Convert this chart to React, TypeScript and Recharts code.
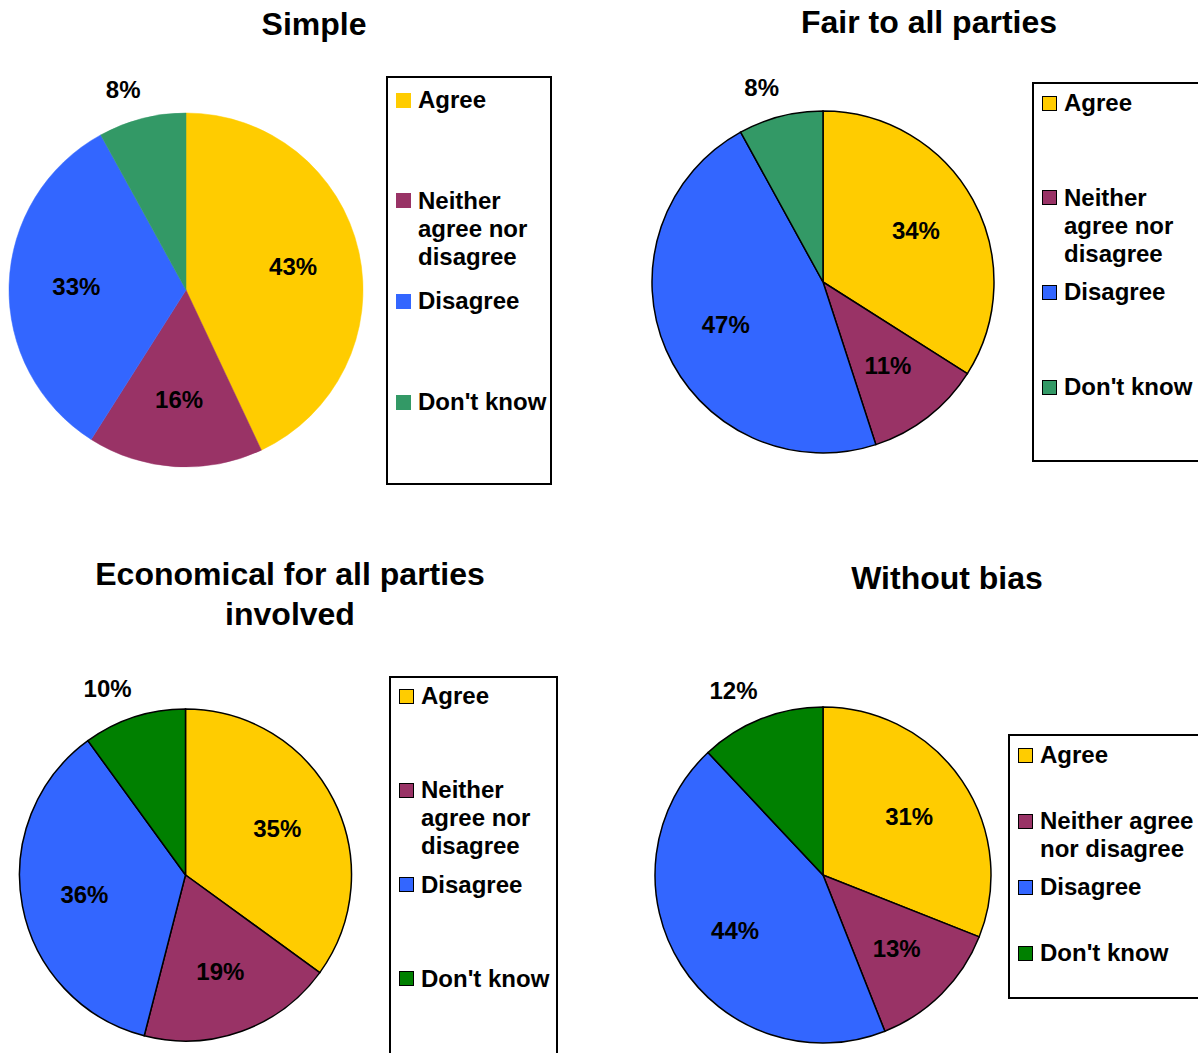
import React from "react";
import { PieChart, Pie, Cell, Legend } from "recharts";

// ---------- data ----------
const categories = ["Agree", "Neither agree nor disagree", "Disagree", "Don't know"];
const simpleValues = [43, 16, 33, 8];
const fairValues = [34, 11, 47, 8];
const economicalValues = [35, 19, 36, 10];
const biasValues = [31, 13, 44, 12];
const titles = ["Simple", "Fair to all parties", "Economical for all parties involved", "Without bias"];
const outsideLabelCategory = "Don't know";

const paletteA = ["#FFCC00", "#993366", "#3366FF", "#339966"];
const paletteB = ["#FFCC00", "#993366", "#3366FF", "#008000"];

const FONT = '"Liberation Sans", Arial, Helvetica, sans-serif';
const RAD = Math.PI / 180;

type Panel = {
  title: string;
  values: number[];
  colors: string[];
  outlined: boolean;
  left: number;
  top: number;
  cx: number;
  cy: number;
  r: number;
  titleLeft: number;
  titleTop: number;
  titleWidth: number;
  legend: { left: number; top: number; width: number; height: number; slot: number; padTop: number; textWidth: number };
};

const panels: Panel[] = [
  {
    title: titles[0], values: simpleValues, colors: paletteA, outlined: false,
    left: 0, top: 0, cx: 186, cy: 290, r: 177,
    titleLeft: 114, titleTop: 4, titleWidth: 400,
    legend: { left: 386, top: 76, width: 166, height: 409, slot: 100.7, padTop: 8, textWidth: 134 },
  },
  {
    title: titles[1], values: fairValues, colors: paletteA, outlined: true,
    left: 599, top: 0, cx: 224, cy: 282, r: 171,
    titleLeft: 130, titleTop: 2, titleWidth: 400,
    legend: { left: 433, top: 82, width: 190, height: 380, slot: 94.7, padTop: 5, textWidth: 134 },
  },
  {
    title: titles[2], values: economicalValues, colors: paletteB, outlined: true,
    left: 0, top: 526, cx: 185.5, cy: 349, r: 166,
    titleLeft: 80, titleTop: 28, titleWidth: 420,
    legend: { left: 389, top: 150, width: 169, height: 420, slot: 94.3, padTop: 4, textWidth: 136 },
  },
  {
    title: titles[3], values: biasValues, colors: paletteB, outlined: true,
    left: 599, top: 526, cx: 224, cy: 349, r: 168,
    titleLeft: 148, titleTop: 32, titleWidth: 400,
    legend: { left: 409, top: 208, width: 200, height: 265, slot: 66, padTop: 5, textWidth: 172 },
  },
];

const renderLabel = (props: any) => {
  const { cx, cy, midAngle, outerRadius, value, payload } = props;
  const name = payload?.name ?? props.name;
  const cos = Math.cos(-midAngle * RAD);
  const sin = Math.sin(-midAngle * RAD);
  const style = { fontFamily: FONT, fontWeight: 700, fontSize: 24 } as React.CSSProperties;
  if (name === outsideLabelCategory) {
    const rr = outerRadius + 18;
    const x = cx + rr * cos;
    const y = cy + rr * sin;
    return (
      <text x={x + 3} y={y - 3} textAnchor="end" fill="#000" style={style}>
        {value}%
      </text>
    );
  }
  const rr = outerRadius * 0.62;
  const x = cx + rr * cos;
  const y = cy + rr * sin;
  return (
    <text x={x} y={y} textAnchor="middle" dominantBaseline="central" fill="#000" style={style}>
      {value}%
    </text>
  );
};

function makeLegend(p: Panel) {
  return () => (
    <div
      style={{
        boxSizing: "border-box",
        width: p.legend.width,
        height: p.legend.height,
        border: "2px solid #000",
        background: "#fff",
        paddingTop: p.legend.padTop,
        fontFamily: FONT,
      }}
    >
      {categories.map((nm, idx) => (
        <div key={nm} style={{ position: "relative", height: p.legend.slot }}>
          <div
            style={{
              position: "absolute",
              left: 8,
              top: 6.5,
              width: 15,
              height: 15,
              boxSizing: "border-box",
              background: p.colors[idx],
              border: p.outlined ? "1.5px solid #000" : "none",
            }}
          />
          <div
            style={{
              position: "absolute",
              left: 30,
              top: 0,
              width: p.legend.textWidth,
              fontSize: 24,
              fontWeight: 700,
              lineHeight: "28px",
              color: "#000",
            }}
          >
            {nm}
          </div>
        </div>
      ))}
    </div>
  );
}

function PiePanel({ p }: { p: Panel }) {
  const data = categories.map((name, i) => ({ name, value: p.values[i] }));
  return (
    <div style={{ position: "absolute", left: p.left, top: p.top, width: 599, height: 527 }}>
      <div
        style={{
          position: "absolute",
          left: p.titleLeft,
          top: p.titleTop,
          width: p.titleWidth,
          textAlign: "center",
          fontFamily: FONT,
          fontWeight: 700,
          fontSize: 32,
          lineHeight: "40px",
          color: "#000",
        }}
      >
        {p.title}
      </div>
      <PieChart width={599} height={527} margin={{ top: 0, right: 0, bottom: 0, left: 0 }}>
        <Pie
          data={data}
          dataKey="value"
          nameKey="name"
          cx={p.cx}
          cy={p.cy}
          outerRadius={p.r}
          startAngle={90}
          endAngle={-270}
          label={renderLabel}
          labelLine={false}
          isAnimationActive={false}
          stroke={p.outlined ? "#000" : "none"}
          strokeWidth={p.outlined ? 1.5 : 0}
        >
          {data.map((d, i) => (
            <Cell
              key={d.name}
              fill={p.colors[i]}
              stroke={p.outlined ? "#000" : p.colors[i]}
              strokeWidth={p.outlined ? 1.5 : 0.5}
            />
          ))}
        </Pie>
        <Legend
          layout="vertical"
          align="right"
          verticalAlign="middle"
          content={makeLegend(p)}
          wrapperStyle={{ left: p.legend.left, top: p.legend.top, width: p.legend.width, height: p.legend.height }}
        />
      </PieChart>
    </div>
  );
}

export default function App() {
  return (
    <div
      style={{
        position: "absolute",
        left: 0,
        top: 0,
        width: 1198,
        height: 1053,
        overflow: "hidden",
        background: "#fff",
      }}
    >
      {panels.map((p) => (
        <PiePanel key={p.title} p={p} />
      ))}
    </div>
  );
}
